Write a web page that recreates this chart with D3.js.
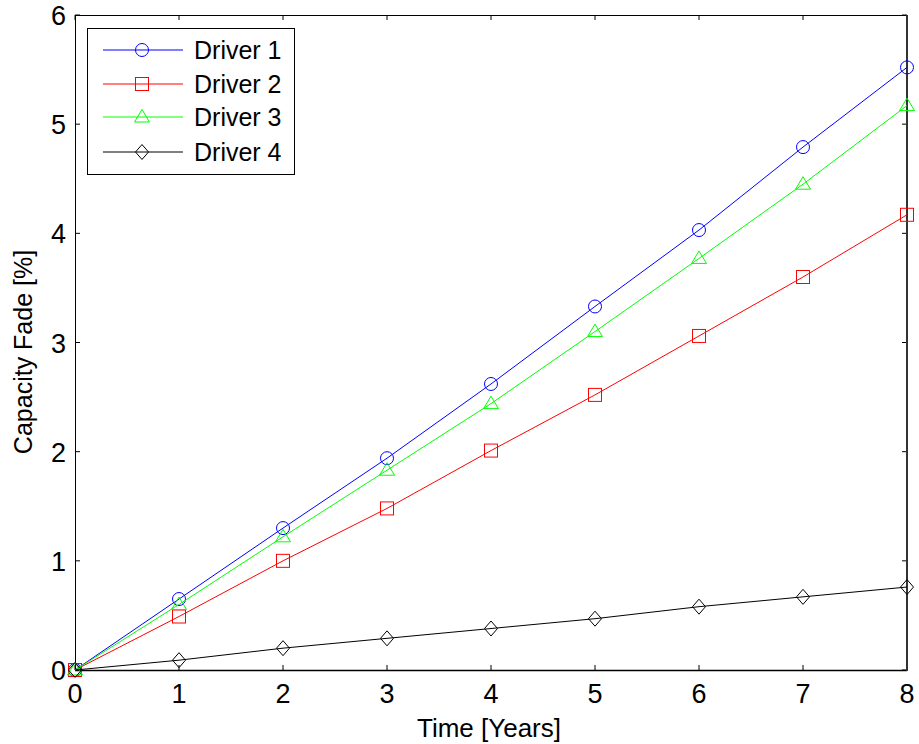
<!DOCTYPE html>
<html>
<head>
<meta charset="utf-8">
<script src="https://cdn.jsdelivr.net/npm/d3@7"></script>
<style>
  body { margin: 0; background: #fff; }
  svg { display: block; }
  text { font-family: Arial, "Liberation Sans", sans-serif; }
</style>
</head>
<body>
<svg id="chart" width="919" height="744"></svg>
<script>
// Capacity fade per driver over eight years
const years = [0, 1, 2, 3, 4, 5, 6, 7, 8];
const driver1 = [0, 0.65, 1.30, 1.94, 2.62, 3.33, 4.03, 4.79, 5.52];
const driver2 = [0, 0.49, 1.00, 1.48, 2.01, 2.52, 3.06, 3.60, 4.17];
const driver3 = [0, 0.60, 1.22, 1.83, 2.44, 3.10, 3.77, 4.45, 5.17];
const driver4 = [0, 0.09, 0.20, 0.29, 0.38, 0.47, 0.58, 0.67, 0.76];
const seriesNames = ["Driver 1", "Driver 2", "Driver 3", "Driver 4"];
const xTicks = [0, 1, 2, 3, 4, 5, 6, 7, 8];
const yTicks = [0, 1, 2, 3, 4, 5, 6];

const series = [
  { name: seriesNames[0], values: driver1, color: "#0000ff", marker: "circle" },
  { name: seriesNames[1], values: driver2, color: "#ff0000", marker: "square" },
  { name: seriesNames[2], values: driver3, color: "#00ff00", marker: "triangle" },
  { name: seriesNames[3], values: driver4, color: "#000000", marker: "diamond" }
];

const svg = d3.select("#chart");
const plotL = 75, plotR = 907, plotT = 15, plotB = 670;

const x = d3.scaleLinear().domain([0, 8]).range([plotL, plotR]);
const y = d3.scaleLinear().domain([0, 6]).range([plotB, plotT]);

// tick marks on all four sides, pointing inward
const tickLen = 5;
const g = svg.append("g");
xTicks.forEach(t => {
  g.append("line").attr("x1", x(t)).attr("x2", x(t)).attr("y1", plotB).attr("y2", plotB - tickLen)
    .attr("stroke", "#000").attr("stroke-width", 1);
  g.append("line").attr("x1", x(t)).attr("x2", x(t)).attr("y1", plotT).attr("y2", plotT + tickLen)
    .attr("stroke", "#000").attr("stroke-width", 1);
});
yTicks.forEach(t => {
  g.append("line").attr("x1", plotL).attr("x2", plotL + tickLen).attr("y1", y(t)).attr("y2", y(t))
    .attr("stroke", "#000").attr("stroke-width", 1);
  g.append("line").attr("x1", plotR).attr("x2", plotR - tickLen).attr("y1", y(t)).attr("y2", y(t))
    .attr("stroke", "#000").attr("stroke-width", 1);
});

// tick labels
g.selectAll(".xl").data(xTicks).enter().append("text")
  .attr("x", d => x(d)).attr("y", 703).attr("text-anchor", "middle")
  .attr("font-size", 27).attr("fill", "#000").text(d => d);
g.selectAll(".yl").data(yTicks).enter().append("text")
  .attr("x", 66).attr("y", d => y(d) + 10).attr("text-anchor", "end")
  .attr("font-size", 27).attr("fill", "#000").text(d => d);

// frame
svg.append("line").attr("x1", plotL).attr("x2", plotR).attr("y1", plotT + 0.5).attr("y2", plotT + 0.5).attr("stroke", "#000");
svg.append("line").attr("x1", plotL + 0.5).attr("x2", plotL + 0.5).attr("y1", plotT).attr("y2", plotB).attr("stroke", "#000");
svg.append("line").attr("x1", plotL).attr("x2", plotR).attr("y1", plotB + 0.5).attr("y2", plotB + 0.5).attr("stroke", "#000").attr("stroke-width", 1.5);
svg.append("line").attr("x1", plotR).attr("x2", plotR).attr("y1", plotT).attr("y2", plotB + 1).attr("stroke", "#333").attr("stroke-width", 2);

// axis titles
svg.append("text").attr("x", 489).attr("y", 737).attr("text-anchor", "middle")
  .attr("font-size", 26).text("Time [Years]");
svg.append("text").attr("transform", "translate(32, 352) rotate(-90)")
  .attr("text-anchor", "middle").attr("font-size", 25).text("Capacity Fade [%]");

function drawMarker(sel, type, color) {
  const s = 6.5;
  if (type === "circle") {
    sel.append("circle").attr("r", s).attr("fill", "none").attr("stroke", color);
  } else if (type === "square") {
    sel.append("rect").attr("x", -s).attr("y", -s).attr("width", 2 * s).attr("height", 2 * s)
      .attr("fill", "none").attr("stroke", color);
  } else if (type === "triangle") {
    sel.append("path").attr("d", `M0,${-s - 1}L${s + 1},${s - 1.5}L${-s - 1},${s - 1.5}Z`)
      .attr("fill", "none").attr("stroke", color);
  } else {
    sel.append("path").attr("d", `M0,${-s - 1}L${s},0L0,${s + 1}L${-s},0Z`)
      .attr("fill", "none").attr("stroke", color);
  }
}

const line = d3.line().x((d, i) => x(years[i])).y(d => y(d));
series.forEach(s => {
  svg.append("path").datum(s.values).attr("d", line)
    .attr("fill", "none").attr("stroke", s.color).attr("stroke-width", 1);
  s.values.forEach((v, i) => {
    const m = svg.append("g").attr("transform", `translate(${x(years[i])},${y(v)})`);
    drawMarker(m, s.marker, s.color);
  });
});

// legend
const lg = svg.append("g");
lg.append("rect").attr("x", 87.5).attr("y", 28.5).attr("width", 207).attr("height", 146)
  .attr("fill", "#fff").attr("stroke", "#000");
const rowY = [50, 84, 117, 152];
series.forEach((s, i) => {
  lg.append("line").attr("x1", 103).attr("x2", 183).attr("y1", rowY[i]).attr("y2", rowY[i])
    .attr("stroke", s.color);
  const m = lg.append("g").attr("transform", `translate(142,${rowY[i]})`);
  drawMarker(m, s.marker, s.color);
  lg.append("text").attr("x", 194).attr("y", rowY[i] + 8.5).attr("font-size", 25).text(s.name);
});
</script>
</body>
</html>
